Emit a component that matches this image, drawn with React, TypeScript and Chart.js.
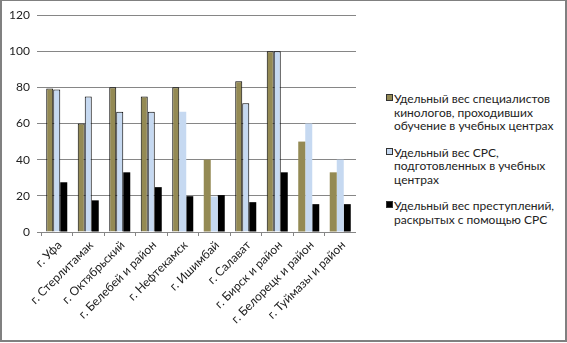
import React, { useEffect, useRef } from 'react';
import { Chart, registerables } from 'chart.js';

Chart.register(...registerables);

const categories = [
  'г. Уфа',
  'г. Стерлитамак',
  'г. Октябрьский',
  'г. Белебей и район',
  'г. Нефтекамск',
  'г. Ишимбай',
  'г. Салават',
  'г. Бирск и район',
  'г. Белорецк и район',
  'г. Туймазы и район',
];

const seriesNames = [
  ['Удельный вес специалистов', 'кинологов, проходивших', 'обучение в учебных центрах'],
  ['Удельный вес СРС,', 'подготовленных в учебных', 'центрах'],
  ['Удельный вес преступлений,', 'раскрытых с помощью СРС'],
];

const specialistsShare = [79.4, 60, 80, 75, 80, 40, 83.3, 100, 50, 33];
const srsTrainedShare = [78.8, 75, 66.5, 66.5, 66.5, 19.6, 71.2, 100, 60, 40];
const crimesSolvedShare = [27.5, 17.5, 33, 24.8, 19.8, 20.4, 16.5, 33, 15.4, 15.4];

const olivBorders = [1, 1, 1, 1, 1, 0, 1, 1, 0, 0];
const blueBorders = [1, 1, 1, 1, 0, 0, 1, 1, 0, 0];

const colors = ['#948A54', '#C6D9F1', '#000000'];

const yMin = 0;
const yMax = 120;
const yStep = 20;

const FONT = 'Lato, "Open Sans", sans-serif';

export default function App() {
  const ref = useRef<HTMLCanvasElement>(null);

  useEffect(() => {
    document.body.style.margin = '0';
    const chart = new Chart(ref.current!, {
      type: 'bar',
      data: {
        labels: categories,
        datasets: [
          {
            label: seriesNames[0].join(' '),
            data: specialistsShare,
            backgroundColor: colors[0],
            borderColor: '#000',
            borderWidth: olivBorders,
            categoryPercentage: 0.667,
            barPercentage: 1,
          },
          {
            label: seriesNames[1].join(' '),
            data: srsTrainedShare,
            backgroundColor: colors[1],
            borderColor: '#000',
            borderWidth: blueBorders,
            categoryPercentage: 0.667,
            barPercentage: 1,
          },
          {
            label: seriesNames[2].join(' '),
            data: crimesSolvedShare,
            backgroundColor: colors[2],
            borderWidth: 0,
            categoryPercentage: 0.667,
            barPercentage: 1,
          },
        ],
      },
      options: {
        responsive: false,
        animation: false,
        layout: { padding: { top: 15, left: 0, right: 0, bottom: 0 } },
        plugins: {
          legend: { display: false },
          tooltip: { enabled: false },
        },
        scales: {
          x: {
            grid: {
              display: true,
              drawOnChartArea: false,
              tickLength: 4,
              color: '#868686',
              offset: true,
            },
            border: { display: false },
            ticks: {
              minRotation: 45,
              maxRotation: 45,
              autoSkip: false,
              padding: 2,
              labelOffset: 3,
              color: '#222',
              font: { family: FONT, size: 12 },
            },
            afterFit: (s: any) => {
              s.height = 111;
            },
          },
          y: {
            min: yMin,
            max: yMax,
            ticks: {
              stepSize: yStep,
              padding: 7,
              color: '#222',
              font: { family: FONT, size: 12 },
            },
            grid: { color: '#868686', tickLength: 4, lineWidth: 1 },
            border: { display: false },
            afterFit: (s: any) => {
              s.width = 41;
            },
          },
        },
      },
    });
    return () => chart.destroy();
  }, []);

  return (
    <div style={{ position: 'relative', width: 567, height: 343, background: '#fff', overflow: 'hidden' }}>
      <canvas
        ref={ref}
        width={356}
        height={343}
        style={{ position: 'absolute', left: 0, top: 0, width: 356, height: 343 }}
      />
      <div
        style={{
          position: 'absolute',
          left: 386,
          top: 92,
          fontFamily: FONT,
          fontSize: 12,
          lineHeight: '13.5px',
          color: '#222',
        }}
      >
        {seriesNames.map((lines, i) => (
          <div key={i} style={{ position: 'relative', paddingLeft: 8, marginBottom: 13 }}>
            <span
              style={{
                position: 'absolute',
                left: 0,
                top: 2,
                width: 5,
                height: 5,
                background: colors[i],
                border: '1px solid #333',
              }}
            />
            {lines.map((l, j) => (
              <div key={j} style={{ whiteSpace: 'nowrap' }}>{l}</div>
            ))}
          </div>
        ))}
      </div>
      <div
        style={{
          position: 'absolute',
          left: 0,
          top: 0,
          width: 567,
          height: 342,
          boxSizing: 'border-box',
          borderStyle: 'solid',
          borderColor: '#808080',
          borderWidth: '1px 2px 2px 2px',
          pointerEvents: 'none',
        }}
      />
    </div>
  );
}
